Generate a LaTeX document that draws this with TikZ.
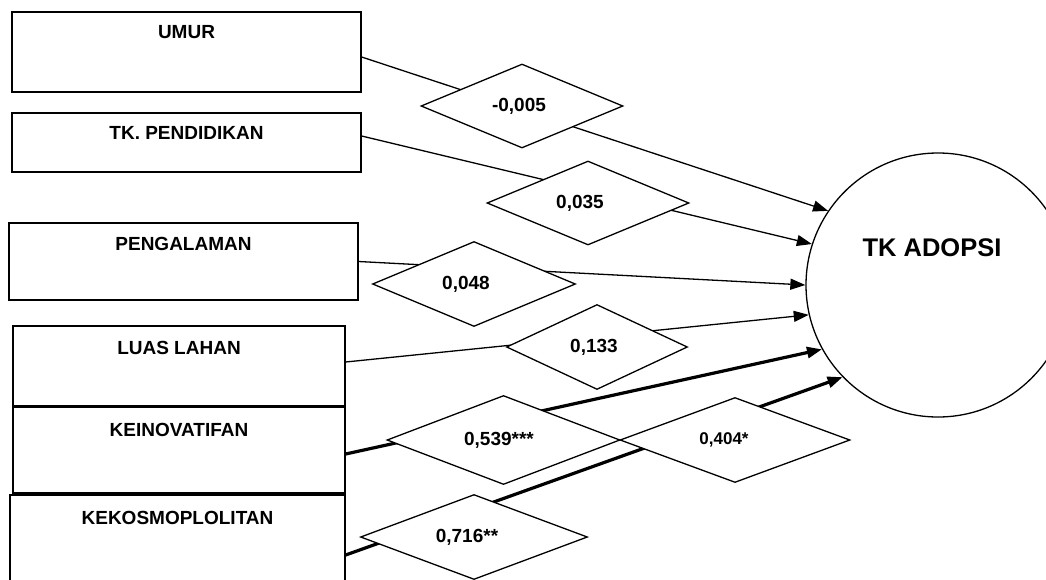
\documentclass[tikz,border=0pt]{standalone}
\usepackage{fontspec}
\setmainfont{Liberation Sans}
\usetikzlibrary{shapes.geometric,arrows.meta,calc}
\begin{document}
\begin{tikzpicture}[x=1pt,y=-1pt,
  box/.style={draw, rectangle, line width=1.3pt, inner sep=0pt},
  lbl/.style={font=\fontsize{19}{22}\selectfont\bfseries, anchor=base, inner sep=0pt},
  coef/.style={draw, diamond, fill=white, line width=1.3pt, inner sep=0pt, shape aspect=2.5,
               font=\fontsize{19}{22}\selectfont\bfseries},
  conn/.style={line width=1.3pt, -{Triangle[length=15pt,width=11pt]}},
  strong/.style={conn, line width=3.2pt},
  sep/.style={line width=3pt}
]
\fill[white] (0,0) rectangle (1046,579);
\useasboundingbox (0,0) rectangle (1046,579);

% boxes
\node[box, minimum width=349pt, minimum height=80pt] (umur) at (186.5,52) {};
\node[box, minimum width=349pt, minimum height=59pt] (tk) at (186.5,142.5) {};
\node[box, minimum width=349pt, minimum height=77pt] (pen) at (183.5,261.5) {};
\node[box, minimum width=332pt, minimum height=80pt] (luas) at (179,366) {};
\node[box, minimum width=332pt, minimum height=87pt] (kei) at (179,449.5) {};
\node[box, minimum width=335pt, minimum height=90pt] (kek) at (177.5,540) {};
\draw[sep] (luas.south west) -- (luas.south east);
\draw[sep, line width=2.4pt] (kei.south west) -- (kei.south east);

\node[lbl] (umurT) at ($(umur.north)+(0,27.5)$) {UMUR};
\node[lbl] (tkT) at ($(tk.north)+(0,27)$) {TK. PENDIDIKAN};
\node[lbl] (penT) at ($(pen.north)+(0,28)$) {PENGALAMAN};
\node[lbl] (luasT) at ($(luas.north)+(0,29)$) {LUAS LAHAN};
\node[lbl] (keiT) at ($(kei.north)+(0,31)$) {KEINOVATIFAN};
\node[lbl] (kekT) at ($(kek.north)+(0,30)$) {KEKOSMOPLOLITAN};

% target
\node[draw, circle, line width=1.3pt, minimum size=264pt, inner sep=0pt] (adopsi) at (938,285) {};
\node[font=\fontsize{25.5}{28}\selectfont\bfseries, inner sep=0pt] (adopsiT) at ($(adopsi.center)+(-6,-37)$) {TK ADOPSI};

% connectors
\draw[conn] ([yshift=-5pt]umur.east) -- (adopsi.146);
\draw[conn] ([yshift=6.5pt]tk.east) -- (adopsi.162);
\draw[conn] (pen.east) -- (adopsi.180);
\draw[conn] ([yshift=4pt]luas.east) -- (adopsi.193);
\draw[strong] ([yshift=-4.5pt]kei.east) -- (adopsi.209);
\draw[strong] ([yshift=-15pt]kek.east) -- (adopsi.224);

% coefficients
\node[coef, minimum width=202pt, minimum height=84pt] (d1) at (522,106) {-0,005\kern6pt};
\node[coef, minimum width=202pt, minimum height=84pt] (d2) at (588,203) {0,035\kern16pt};
\node[coef, minimum width=203pt, minimum height=85pt] (d3) at (474,284) {0,048\kern16pt};
\node[coef, minimum width=181pt, minimum height=85pt] (d4) at (597,347) {0,133\kern6pt};
\node[coef, minimum width=233pt, minimum height=89pt] (d5) at (503.5,440) {0,539***\kern9pt};
\node[coef, minimum width=230pt, minimum height=85pt, font=\fontsize{17}{20}\selectfont\bfseries] (d6) at (735,440) {0,404*\kern22pt};
\node[coef, minimum width=227pt, minimum height=85pt] (d7) at (474,537) {0,716**\kern14pt};
\end{tikzpicture}
\end{document}
